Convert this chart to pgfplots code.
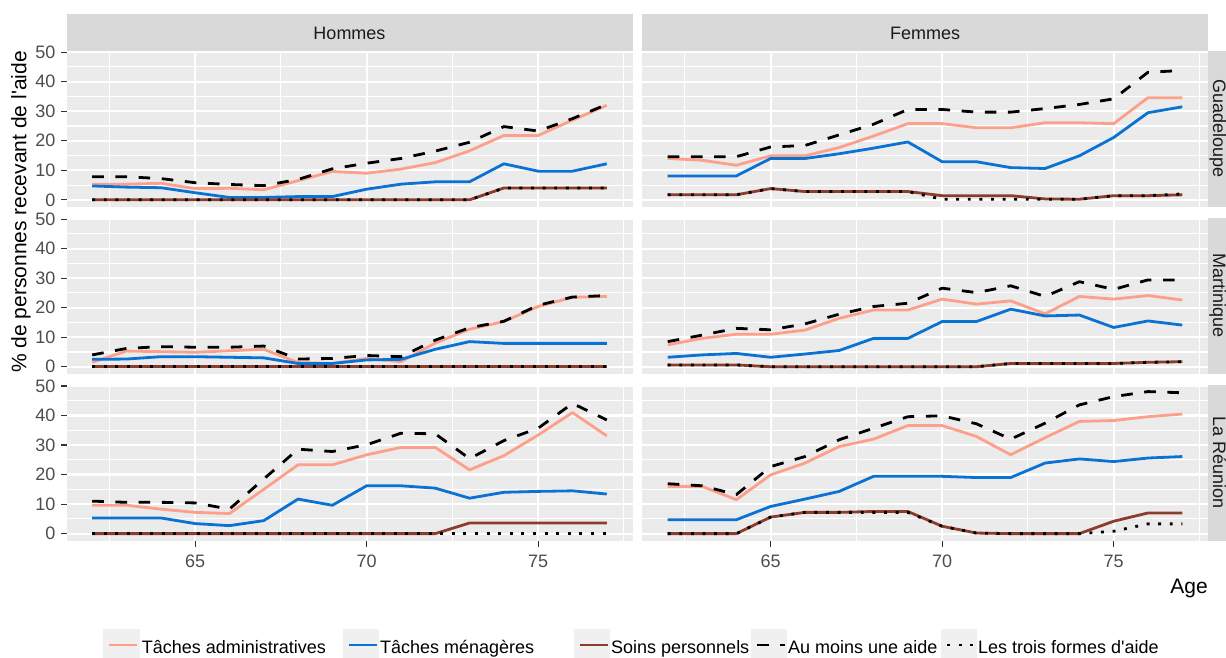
\documentclass[border=0pt]{standalone}
\usepackage{fontspec}
\setmainfont{Liberation Sans}
\usepackage{pgfplots}
\usepackage{pgfplotstable}
\pgfplotsset{compat=1.18}

\definecolor{panelbg}{RGB}{235,235,235}
\definecolor{stripbg}{RGB}{217,217,217}
\definecolor{striptext}{RGB}{26,26,26}
\definecolor{axisgray}{RGB}{77,77,77}
\definecolor{tickc}{RGB}{51,51,51}
\definecolor{legbg}{RGB}{240,240,240}
\definecolor{cadmin}{RGB}{252,160,138}
\definecolor{cmen}{RGB}{10,114,210}
\definecolor{csoin}{RGB}{140,60,44}

\pgfplotstableread{
age admin men soin aumoins trois
62 5.3 4.7 0 7.8 0
63 5.3 4.3 0 7.8 0
64 5.6 4.1 0 7.2 0
65 3.8 2.4 0 5.8 0
66 3.9 0.8 0 5.2 0
67 3.4 0.8 0 4.8 0
68 6.5 1.1 0 6.9 0
69 9.6 1.1 0 10.5 0
70 9.0 3.6 0 12.4 0
71 10.4 5.3 0 14.0 0
72 12.6 6.1 0 16.5 0
73 16.6 6.1 0 19.5 0
74 21.8 12.2 4.0 24.8 4.0
75 21.8 9.7 4.0 23.3 4.0
76 27.0 9.7 4.0 27.5 4.0
77 32.0 12.2 4.0 32.3 4.0
}\HG

\pgfplotstableread{
age admin men soin aumoins trois
62 14.0 8.1 1.7 14.6 1.7
63 13.4 8.1 1.7 14.6 1.7
64 11.7 8.1 1.7 14.6 1.7
65 14.9 14.0 3.8 17.9 3.8
66 14.9 14.0 2.8 18.4 2.8
67 17.7 15.6 2.8 22.0 2.8
68 21.6 17.5 2.8 25.6 2.8
69 25.8 19.6 2.8 30.6 2.8
70 25.8 12.9 1.4 30.6 0.2
71 24.4 12.9 1.4 29.7 0.2
72 24.4 10.9 1.4 29.7 0.2
73 26.1 10.6 0.3 30.9 0.2
74 26.1 14.9 0.2 32.3 0.2
75 25.8 21.1 1.4 34.2 1.4
76 34.6 29.5 1.4 43.2 1.4
77 34.6 31.5 1.7 43.8 2.0
}\FG

\pgfplotstableread{
age admin men soin aumoins trois
62 1.5 2.5 0 4.0 0
63 5.3 2.6 0 6.2 0
64 5.1 3.4 0 6.8 0
65 4.9 3.4 0 6.6 0
66 5.4 3.2 0 6.6 0
67 5.9 3.0 0 7.0 0
68 1.4 1.1 0 2.6 0
69 1.1 1.1 0 2.8 0
70 2.8 2.3 0 3.8 0
71 1.7 2.5 0 3.4 0
72 8.0 5.9 0 9.0 0
73 12.7 8.5 0 13.2 0
74 15.3 7.9 0 15.4 0
75 20.4 7.9 0 20.8 0
76 23.5 7.9 0 23.6 0
77 23.8 7.9 0 24.1 0
}\HM

\pgfplotstableread{
age admin men soin aumoins trois
62 7.4 3.2 0.6 8.5 0.6
63 9.6 4.0 0.6 10.7 0.6
64 11.0 4.5 0.6 13.0 0.6
65 11.0 3.2 0 12.5 0
66 12.4 4.3 0 14.5 0
67 16.4 5.5 0 17.8 0
68 19.2 9.6 0 20.4 0
69 19.2 9.6 0 21.5 0
70 22.9 15.3 0 26.6 0
71 21.2 15.3 0 25.1 0
72 22.3 19.5 1.1 27.4 1.1
73 17.9 17.2 1.1 23.8 1.1
74 23.8 17.5 1.1 28.8 1.1
75 22.9 13.3 1.1 26.2 1.1
76 24.1 15.5 1.5 29.4 1.5
77 22.6 14.1 1.7 29.4 1.7
}\FM

\pgfplotstableread{
age admin men soin aumoins trois
62 9.6 5.3 0 11.0 0
63 9.6 5.3 0 10.6 0
64 8.3 5.3 0 10.6 0
65 7.2 3.4 0 10.4 0
66 6.8 2.7 0 8.3 0
67 15.0 4.4 0 18.5 0
68 23.3 11.7 0 28.6 0
69 23.3 9.6 0 27.8 0
70 26.7 16.2 0 30.1 0
71 29.2 16.2 0 34.0 0
72 29.2 15.4 0 33.8 0
73 21.6 12.0 3.6 25.4 0
74 26.4 14.0 3.6 31.5 0
75 33.4 14.3 3.6 35.7 0
76 41.0 14.5 3.6 44.1 0
77 33.1 13.4 3.6 38.5 0
}\HR

\pgfplotstableread{
age admin men soin aumoins trois
62 16.0 4.7 0 16.9 0
63 16.0 4.7 0 16.2 0
64 11.5 4.7 0 13.2 0
65 19.9 9.2 5.6 22.7 5.6
66 23.9 11.7 7.2 26.1 7.2
67 29.5 14.3 7.2 31.8 7.2
68 32.0 19.4 7.5 35.7 7.2
69 36.6 19.4 7.5 39.6 7.2
70 36.6 19.4 2.5 39.9 2.5
71 32.9 19.0 0.2 37.2 0.2
72 26.7 19.0 0 32.0 0
73 32.5 23.9 0 37.4 0
74 38.0 25.3 0 43.6 0
75 38.3 24.4 4.2 46.4 0.8
76 39.6 25.6 7.0 48.1 3.3
77 40.5 26.1 7.0 47.7 3.3
}\FR

\pgfplotsset{
  sadmin/.style={cadmin, line width=2.8pt, line join=round, no markers},
  smen/.style={cmen, line width=2.8pt, line join=round, no markers},
  ssoin/.style={csoin, line width=2.8pt, line join=round, no markers},
  saum/.style={black, line width=2.8pt, line join=round, dash pattern=on 11.6pt off 11.6pt, no markers},
  strois/.style={black, line width=2.8pt, line join=round, dash pattern=on 2.9pt off 8.7pt, no markers},
  panel/.style={
    scale only axis, width=566pt, height=156.2pt,
    anchor=north west,
    xmin=61.25, xmax=77.75, ymin=-2.4, ymax=50.5,
    axis background/.style={fill=panelbg},
    axis line style={draw=none},
    xtick={65,70,75}, ytick={0,10,20,30,40,50},
    minor xtick={62.5,67.5,72.5,77.5}, minor ytick={5,15,25,35,45},
    grid=both,
    major grid style={draw=white, line width=2.2pt},
    minor grid style={draw=white, line width=1.1pt},
    major tick length=0pt, minor tick length=0pt,
    xticklabels={}, yticklabels={},
    tick label style={font=\fontsize{18}{20}\selectfont, text=axisgray},
    yticklabel style={anchor=east, inner sep=0pt, xshift=-10.8pt},
    xticklabel style={anchor=north, inner sep=0pt, yshift=-14.3pt},
    clip mode=individual,
  },
}

\newcommand\fiveseries[1]{%
  \addplot[sadmin] table[x=age,y=admin]{#1};
  \addplot[smen] table[x=age,y=men]{#1};
  \addplot[ssoin] table[x=age,y=soin]{#1};
  \addplot[saum] table[x=age,y=aumoins]{#1};
  \addplot[strois] table[x=age,y=trois]{#1};
}
\newcommand\leftyticks{%
  \pgfplotsinvokeforeach{0,10,20,30,40,50}{\draw[tickc,line width=1.1pt] (axis cs:61.25,##1) -- ++(-6pt,0pt);}}
\newcommand\bottomxticks{%
  \pgfplotsinvokeforeach{65,70,75}{\draw[tickc,line width=1.1pt] (axis cs:##1,-2.4) -- ++(0pt,-6pt);}}

\begin{document}
\begin{tikzpicture}[x=1pt,y=1pt]
\useasboundingbox (0,0) rectangle (1226,-657);
\begin{scope}
\clip (0,0) rectangle (1226,-657);

% top strips
\fill[stripbg] (66.5,-14.3) rectangle (632.5,-50.7);
\fill[stripbg] (642,-14.3) rectangle (1208,-50.7);
\node[text=striptext, font=\fontsize{18}{20}\selectfont] at (349.5,-33) {Hommes};
\node[text=striptext, font=\fontsize{18}{20}\selectfont] at (925,-33) {Femmes};

% right strips
\fill[stripbg] (1208,-50.7) rectangle (1250,-206.9);
\fill[stripbg] (1208,-217.6) rectangle (1250,-373.8);
\fill[stripbg] (1208,-384.5) rectangle (1250,-540.7);
\node[text=striptext, font=\fontsize{18}{20}\selectfont, rotate=-90, anchor=base, inner sep=0pt] at (1213,-128.8) {Guadeloupe};
\node[text=striptext, font=\fontsize{18}{20}\selectfont, rotate=-90, anchor=base, inner sep=0pt] at (1213,-295.7) {Martinique};
\node[text=striptext, font=\fontsize{18}{20}\selectfont, rotate=-90, anchor=base, inner sep=0pt] at (1213,-462.6) {La Réunion};

% row 1
\begin{axis}[panel, at={(66.5pt,-50.7pt)}, yticklabels={0,10,20,30,40,50}]
\fiveseries{\HG}
\leftyticks
\end{axis}
\begin{axis}[panel, at={(642pt,-50.7pt)}]
\fiveseries{\FG}
\end{axis}
% row 2
\begin{axis}[panel, at={(66.5pt,-217.6pt)}, yticklabels={0,10,20,30,40,50}]
\fiveseries{\HM}
\leftyticks
\end{axis}
\begin{axis}[panel, at={(642pt,-217.6pt)}]
\fiveseries{\FM}
\end{axis}
% row 3
\begin{axis}[panel, at={(66.5pt,-384.5pt)}, yticklabels={0,10,20,30,40,50}, xticklabels={65,70,75}]
\fiveseries{\HR}
\leftyticks
\bottomxticks
\end{axis}
\begin{axis}[panel, at={(642pt,-384.5pt)}, xticklabels={65,70,75}]
\fiveseries{\FR}
\bottomxticks
\end{axis}

% axis titles
\node[rotate=90, font=\fontsize{21}{24}\selectfont] at (21,-212) {\% de personnes recevant de l\textquotesingle aide};
\node[anchor=base east, inner sep=0pt, font=\fontsize{21}{24}\selectfont] at (1208,-593) {Age};

% legend
\fill[legbg] (102.7,-629) rectangle (140,-661);
\draw[cadmin, line width=2.8pt] (109,-645) -- (137,-645);
\node[anchor=base west, inner sep=0pt, font=\fontsize{18}{20}\selectfont] at (141.7,-653.3) {Tâches administratives};
\fill[legbg] (343,-629) rectangle (379,-661);
\draw[cmen, line width=2.8pt] (349,-645) -- (377,-645);
\node[anchor=base west, inner sep=0pt, font=\fontsize{18}{20}\selectfont] at (380,-653.3) {Tâches ménagères};
\fill[legbg] (574,-629) rectangle (610,-661);
\draw[csoin, line width=2.8pt] (580,-645) -- (608,-645);
\node[anchor=base west, inner sep=0pt, font=\fontsize{18}{20}\selectfont] at (611,-653.3) {Soins personnels};
\fill[legbg] (751,-629) rectangle (787,-661);
\draw[black, line width=2.8pt, dash pattern=on 11.6pt off 11.6pt] (757,-645) -- (785,-645);
\node[anchor=base west, inner sep=0pt, font=\fontsize{18}{20}\selectfont] at (788,-653.3) {Au moins une aide};
\fill[legbg] (941,-629) rectangle (977,-661);
\draw[black, line width=2.8pt, dash pattern=on 2.9pt off 8.7pt] (947,-645) -- (975,-645);
\node[anchor=base west, inner sep=0pt, font=\fontsize{18}{20}\selectfont] at (978,-653.3) {Les trois formes d\textquotesingle aide};
\end{scope}
\end{tikzpicture}
\end{document}
